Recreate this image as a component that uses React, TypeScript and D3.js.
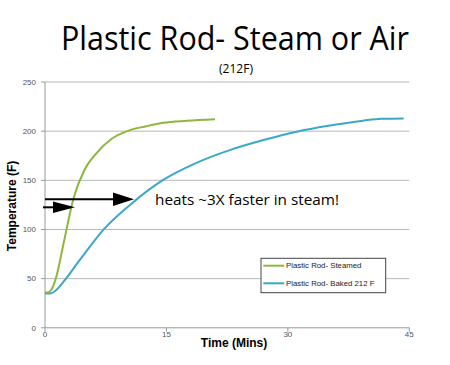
import React from "react";
import * as d3 from "d3";

const steamTime = [0, 0.3, 0.8, 1.4, 2.3, 3.5, 4.9, 6.4, 8.2, 10.5, 12.5, 14.6, 17.5, 21];
const steamTemp = [36, 36, 39, 52, 86, 131, 161, 178, 192, 201, 205, 208.5, 210.5, 212];
const bakedTime = [0, 0.6, 1.4, 2.3, 4.3, 7.2, 10.5, 14.6, 18.5, 22.9, 27, 31.1, 35, 39.3, 41.5, 44.3];
const bakedTemp = [35, 35, 38.5, 47, 69, 99.6, 125, 150.4, 167, 181, 191, 199.5, 205.5, 210.7, 212.6, 213];
const xTicks = [0, 15, 30, 45];
const yTicks = [0, 50, 100, 150, 200, 250];
const seriesNames = ["Plastic Rod- Steamed", "Plastic Rod- Baked 212 F"];
const seriesColors = ["#8db63c", "#3aa8c8"];

export default function App() {
  const W = 450, H = 365;
  const x = d3.scaleLinear().domain([0, 45]).range([45, 409.3]);
  const y = d3.scaleLinear().domain([0, 250]).range([327.8, 82]);
  const line = d3.line<[number, number]>().x(d => x(d[0])).y(d => y(d[1])).curve(d3.curveMonotoneX);
  const steam = steamTime.map((t, i) => [t, steamTemp[i]] as [number, number]);
  const baked = bakedTime.map((t, i) => [t, bakedTemp[i]] as [number, number]);
  const font = "'Open Sans', sans-serif";
  const small = "'Liberation Sans', Arial, sans-serif";
  return (
    <svg width={W} height={H} style={{ position: "absolute", left: 0, top: 0, background: "#fff" }}>
      <rect width={W} height={H} fill="#fff" />
      <text x={235} y={49.5} textAnchor="middle" fontFamily={font} fontSize={32.5} textLength={348} lengthAdjust="spacingAndGlyphs" fill="#000">Plastic Rod- Steam or Air</text>
      <text x={236} y={73} textAnchor="middle" fontFamily={font} fontSize={12} fill="#000">(212F)</text>
      {yTicks.map(t => (
        <g key={"y" + t}>
          {t > 0 && <line x1={x(0)} x2={x(45)} y1={y(t)} y2={y(t)} stroke="#b8b8b8" strokeWidth={1} />}
          <line x1={41} x2={45} y1={y(t)} y2={y(t)} stroke="#999" />
          <text x={36} y={y(t)} dy="0.35em" textAnchor="end" fontFamily={small} fontSize={8} fill="#555">{t}</text>
        </g>
      ))}
      <line x1={x(0)} x2={x(0)} y1={y(250)} y2={y(0)} stroke="#999" />
      <line x1={x(0)} x2={x(45)} y1={y(0)} y2={y(0)} stroke="#999" />
      {xTicks.map(t => (
        <g key={"x" + t}>
          <line x1={x(t)} x2={x(t)} y1={y(0)} y2={y(0) + 4} stroke="#999" />
          <text x={x(t)} y={337} textAnchor="middle" fontFamily={small} fontSize={8} fill="#555">{t}</text>
        </g>
      ))}
      <text x={234} y={347} textAnchor="middle" fontFamily={small} fontWeight="bold" fontSize={12} fill="#000">Time (Mins)</text>
      <text transform={`translate(16,206) rotate(-90)`} textAnchor="middle" fontFamily={small} fontWeight="bold" fontSize={12} fill="#000">Temperature (F)</text>
      <path d={line(baked) || ""} fill="none" stroke={seriesColors[1]} strokeWidth={2} />
      <path d={line(steam) || ""} fill="none" stroke={seriesColors[0]} strokeWidth={2} />
      <line x1={45} x2={114} y1={199.3} y2={199.3} stroke="#000" strokeWidth={2} />
      <path d="M113,192.5 L134,199.3 L113,206 Z" fill="#000" />
      <line x1={43} x2={54} y1={207.3} y2={207.3} stroke="#000" strokeWidth={2} />
      <path d="M53,201.5 L75,207.3 L53,213 Z" fill="#000" />
      <text x={155} y={205} fontFamily={font} fontSize={15.3} fill="#000">heats ~3X faster in steam!</text>
      <rect x={261} y={258.3} width={124.7} height={34.4} fill="#fff" stroke="#444" strokeWidth={1} />
      {seriesNames.map((n, i) => (
        <g key={n}>
          <line x1={263.3} x2={284.3} y1={265.7 + i * 17.6} y2={265.7 + i * 17.6} stroke={seriesColors[i]} strokeWidth={2} />
          <text x={286} y={265.7 + i * 17.6} dy="0.35em" fontFamily={small} fontSize={7.8} fill="#222">{n}</text>
        </g>
      ))}
    </svg>
  );
}
